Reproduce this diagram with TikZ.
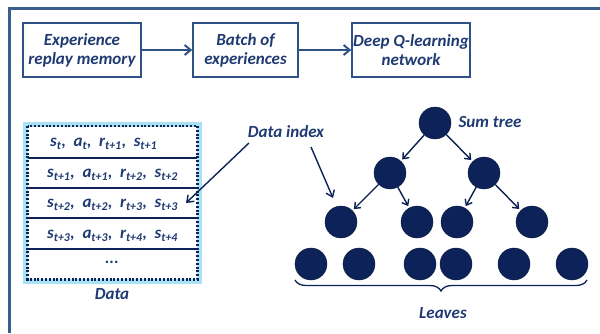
\documentclass[tikz,border=0pt]{standalone}
\usepackage{fontspec}
\setmainfont{Carlito}
\usetikzlibrary{arrows.meta,decorations.pathreplacing}
\definecolor{framecol}{HTML}{3A5E8E}
\definecolor{boxcol}{HTML}{2F5286}
\definecolor{txtcol}{HTML}{1F3A72}
\definecolor{navy}{HTML}{0C2259}
\definecolor{glow}{HTML}{A8E2F4}
\tikzset{
  lbl/.style={font=\fontsize{17}{19}\selectfont\bfseries\itshape, text=txtcol},
  stagebox/.style={draw=boxcol, line width=1.6pt, minimum width=118pt, minimum height=54pt,
    align=center, lbl, inner sep=0pt},
  flow/.style={draw=boxcol, line width=2pt, -{Straight Barb[length=6pt,width=10pt,line width=2pt]}},
  rowtxt/.style={font=\fontsize{17}{19}\selectfont\bfseries\itshape, text=txtcol, anchor=west, inner sep=0pt},
  sep/.style={draw=navy, line width=1.3pt},
  tnode/.style={circle, fill=navy, draw=navy!70!black, line width=0.4pt, minimum size=32pt, inner sep=0pt},
  tedge/.style={draw=navy!90!black, line width=1.4pt, shorten >=2pt, shorten <=0pt,
    -{Straight Barb[length=5pt,width=8pt,line width=1.4pt]}},
  pointer/.style={draw=navy, line width=1.4pt, -{Straight Barb[length=6pt,width=9pt,line width=1.4pt]}}
}
\newcommand{\lowix}[1]{\textsubscript{#1}}
\newcommand{\gap}{\hspace{0.45em}}
\begin{document}
\begin{tikzpicture}[x=1pt,y=-1pt]
\useasboundingbox (0,0) rectangle (600,333);
% outer frame (open on the right and bottom)
\draw[framecol, line width=3pt] (9.5,333) -- (9.5,8.5) -- (600,8.5);

% pipeline
\node[stagebox, minimum width=118pt] (erm) at (82,50) {Experience\\replay memory};
\node[stagebox, minimum width=105pt] (boe) at (245.5,50) {Batch of\\experiences};
\node[stagebox, minimum width=118pt] (dqn) at (411,50) {Deep Q-learning\\network};
\draw[flow] (erm) -- (boe);
\draw[flow] (boe) -- (dqn);

% replay data table
\draw[glow, line width=5pt] (25.5,124) rectangle (199.5,281.5);
\draw[navy, line width=2.2pt, dash pattern=on 2pt off 1.8pt] (27.5,126) rectangle (197.5,279.5);
\coordinate (r1l) at (28,158); \coordinate (r1r) at (197,158);
\coordinate (r2l) at (28,188); \coordinate (r2r) at (197,188);
\coordinate (r3l) at (28,218); \coordinate (r3r) at (197,218);
\coordinate (r4l) at (28,249); \coordinate (r4r) at (197,249);
\draw[sep] (r1l) -- (r1r);
\draw[sep] (r2l) -- (r2r);
\draw[sep] (r3l) -- (r3r);
\draw[sep] (r4l) -- (r4r);
\node[rowtxt] (row1) at (50,144) {s\lowix{t},\gap a\lowix{t},\gap r\lowix{t+1},\gap s\lowix{t+1}};
\node[rowtxt] (row2) at (47,175) {s\lowix{t+1},\gap a\lowix{t+1},\gap r\lowix{t+2},\gap s\lowix{t+2}};
\node[rowtxt] (row3) at (47,205) {s\lowix{t+2},\gap a\lowix{t+2},\gap r\lowix{t+3},\gap s\lowix{t+3}};
\node[rowtxt] (row4) at (47,236) {s\lowix{t+3},\gap a\lowix{t+3},\gap r\lowix{t+4},\gap s\lowix{t+4}};
\node[lbl] (dots) at (112,262) {...};
\node[lbl] (datalbl) at (112,294) {Data};

% sum tree
\node[tnode] (n0) at (435,123) {};
\node[tnode] (n1) at (390,173) {};
\node[tnode] (n2) at (484,173) {};
\node[tnode] (n3) at (341,222) {};
\node[tnode] (n4) at (417,222) {};
\node[tnode] (n5) at (457,222) {};
\node[tnode] (n6) at (532,222) {};
\node[tnode] (l1) at (311,264) {};
\node[tnode] (l2) at (359,264) {};
\node[tnode] (l3) at (420,264) {};
\node[tnode] (l4) at (456,264) {};
\node[tnode] (l5) at (514,264) {};
\node[tnode] (l6) at (572,264) {};
\draw[tedge] (n0) -- (n1);
\draw[tedge] (n0) -- (n2);
\draw[tedge] (n1) -- (n3);
\draw[tedge] (n1) -- (n4);
\draw[tedge] (n2) -- (n5);
\draw[tedge] (n2) -- (n6);
\node[lbl, anchor=west] (sumlbl) at (455,122) {Sum tree};

% leaves brace
\coordinate (bl) at (295,280);
\coordinate (br) at (587,280);
\draw[navy, line width=1.3pt, decorate, decoration={brace, mirror, amplitude=11pt, aspect=0.5}] (bl) -- (br);
\node[lbl] (leaveslbl) at (443,313) {Leaves};

% data index pointers
\node[lbl] (idx) at (286,132) {Data index};
\coordinate (p1s) at (249,143);
\coordinate (p1e) at (186,203);
\coordinate (p2s) at (311,147);
\coordinate (p2e) at (333,198);
\draw[pointer] (p1s) -- (p1e);
\draw[pointer] (p2s) -- (p2e);
\end{tikzpicture}
\end{document}
